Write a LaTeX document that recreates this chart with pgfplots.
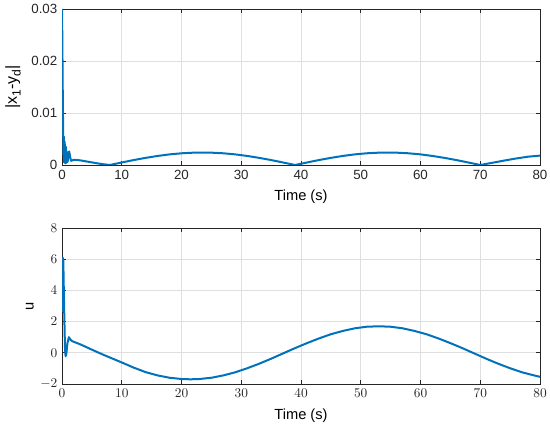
\documentclass[border=0pt]{standalone}
\usepackage{pgfplots}
\pgfplotsset{compat=1.18}
\usepackage{fontspec}
\setmainfont{Liberation Sans}
\definecolor{mblue}{rgb}{0,0.447,0.741}
\definecolor{axgray}{rgb}{0.15,0.15,0.15}
\definecolor{gridgray}{RGB}{223,223,223}
\newcommand{\sub}[1]{\raisebox{-0.45ex}{\fontsize{9}{10}\selectfont #1}}
\begin{document}
\begin{tikzpicture}
\path[use as bounding box] (0pt,0pt) rectangle (412.5pt,320.25pt);
\pgfplotsset{
  mystyle/.style={
    scale only axis,
    width=358.5pt, height=117pt,
    xmin=0, xmax=80,
    xtick={0,10,...,80},
    grid=major,
    major grid style={gridgray, line width=0.5pt},
    axis line style={axgray, line width=0.6pt},
    major tick style={axgray, line width=0.6pt},
    major tick length=3pt,
    tick align=inside,
    xlabel={Time (s)},
    label style={font=\fontsize{11}{13}\selectfont},
    tick label style={font=\fontsize{10}{12}\selectfont, text=axgray},
    xlabel style={yshift=-1.5pt},
  }
}
\begin{axis}[mystyle, at={(46.5pt,196.5pt)}, anchor=south west,
  ymin=0, ymax=0.03,
  ytick={0,0.01,0.02,0.03},
  yticklabels={0,0.01,0.02,0.03},
  scaled y ticks=false,
  /pgf/number format/assume math mode=true,
  ylabel={|x\sub{1}-y\sub{d}|},
  ylabel style={font=\fontsize{12}{14}\selectfont, yshift=1pt},
]
\addplot[mblue, line width=1.5pt, line join=round] coordinates {
(0,0.0300) (0.05,0.025) (0.1,0.018) (0.15,0.011) (0.2,0.006) (0.25,0.002)
(0.3,0.0055) (0.35,0.0005) (0.45,0.0045) (0.55,0.0003) (0.65,0.0035)
(0.75,0.0004) (0.85,0.0025) (0.95,0.0006) (1.1,0.0024) (1.2,0.0026)
(1.5,0.0008) (2,0.0010) (3,0.0009) (4,0.0007) (5,0.0005) (6,0.0003)
(7,0.00013) (8,0) (10,0.00048) (12,0.00095) (14,0.00137) (16,0.00174)
(18,0.00204) (20,0.00225) (22,0.00237) (23.5,0.0024) (25,0.00237)
(27,0.00225) (29,0.00204) (31,0.00174) (33,0.00137) (35,0.00095)
(37,0.00048) (39,0) (41,0.00048) (43,0.00095) (45,0.00137) (47,0.00174)
(49,0.00204) (51,0.00225) (53,0.00237) (54.5,0.0024) (56,0.00237)
(58,0.00225) (60,0.00204) (62,0.00174) (64,0.00137) (66,0.00095)
(68,0.00048) (70,0) (72,0.00042) (74,0.00085) (76,0.00125) (78,0.0016)
(80,0.0018)
};
\end{axis}
\begin{axis}[mystyle, at={(46.5pt,32.25pt)}, anchor=south west,
  ymin=-2, ymax=8,
  ytick={-2,0,2,4,6,8},
  ylabel={u},
  ylabel style={yshift=-2pt},
]
\addplot[mblue, line width=1.5pt, line join=round] coordinates {
(0,2.6) (0.06,4.5) (0.12,6.1) (0.22,5.9) (0.35,3.0) (0.5,0.3) (0.6,-0.22)
(0.72,-0.1) (0.9,0.6) (1.15,1.0) (1.4,0.85) (1.7,0.75) (2,0.7) (3,0.55) (4,0.38)
(5,0.2) (6,0.03) (7,-0.14) (8,-0.3) (9,-0.46) (10,-0.62) (12,-0.95)
(14,-1.24) (16,-1.45) (18,-1.60) (20,-1.68) (21.5,-1.70) (23,-1.68)
(25,-1.60) (27,-1.45) (29,-1.25) (31,-0.99) (33,-0.70) (35,-0.38)
(37,-0.04) (39,0.30) (41,0.62) (43,0.92) (45,1.19) (47,1.40) (49,1.57)
(51,1.67) (53,1.70) (55,1.67) (57,1.57) (59,1.40) (61,1.19) (63,0.92)
(65,0.62) (67,0.30) (69,-0.04) (71,-0.38) (73,-0.70) (75,-0.99)
(77,-1.25) (79,-1.45) (80,-1.54)
};
\end{axis}
\end{tikzpicture}
\end{document}
